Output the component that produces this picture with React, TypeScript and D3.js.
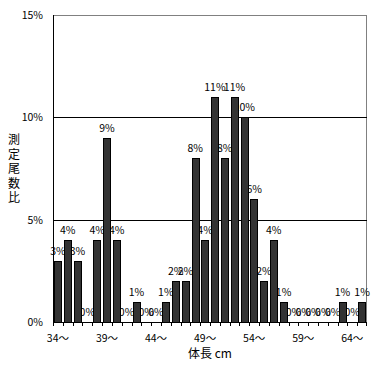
import React from "react";
import * as d3 from "d3";

const categories: number[] = d3.range(34, 66);
const values: number[] = [3, 4, 3, 0, 4, 9, 4, 0, 1, 0, 0, 1, 2, 2, 8, 4, 11, 8, 11, 10, 6, 2, 4, 1, 0, 0, 0, 0, 0, 1, 0, 1];
const yTicks: number[] = [0, 5, 10, 15];
const xLabelCats: number[] = [34, 39, 44, 49, 54, 59, 64];
const yTitle = "測定尾数比";
const xTitle = "体長 cm";

const W = 382, H = 367;
const left = 53, right = 367, top = 15, bottom = 322;
const font = "'Noto Sans CJK JP', 'DejaVu Sans', sans-serif";

export default function App() {
  const x = d3.scaleBand<number>().domain(categories).range([left, right]).paddingInner(0.24).paddingOuter(0.12);
  const xb = d3.scaleBand<number>().domain(categories).range([left, right]);
  const y = d3.scaleLinear().domain([0, 15]).range([bottom, top]);
  return (
    <svg width={W} height={H} style={{ position: "absolute", left: 0, top: 0, background: "#fff" }}>
      <rect x={0} y={0} width={W} height={H} fill="#fff" />
      {/* plot border */}
      <line x1={left} x2={right} y1={top + 0.5} y2={top + 0.5} stroke="#808080" />
      <line x1={right - 0.5} x2={right - 0.5} y1={top} y2={bottom} stroke="#808080" />
      {yTicks.filter(t => t > 0 && t < 15).map(t => (
        <line key={t} x1={left} x2={right} y1={Math.round(y(t)) + 0.5} y2={Math.round(y(t)) + 0.5} stroke="#000" />
      ))}
      {/* value labels (drawn under bars) */}
      {categories.map((c, i) => (
        <text key={"l" + c} x={x(c)! + x.bandwidth() / 2} y={y(values[i]) - 6} textAnchor="middle" fontSize={10.5} fontFamily={font} fill="#000">
          {values[i]}%
        </text>
      ))}
      {categories.map((c, i) => (
        <rect key={"b" + c} x={Math.round(x(c)!) + 0.5} y={Math.round(y(values[i])) + 0.5} width={Math.round(x.bandwidth())} height={Math.max(0, bottom - Math.round(y(values[i])))} fill="#333333" stroke="#000" strokeWidth={1} />
      ))}
      {/* axes */}
      <line x1={left + 0.5} x2={left + 0.5} y1={top} y2={bottom + 1} stroke="#000" />
      <line x1={left} x2={right} y1={bottom + 0.5} y2={bottom + 0.5} stroke="#000" />
      {categories.map(c => (
        <line key={"t" + c} x1={Math.round(xb(c)!) + 0.5} x2={Math.round(xb(c)!) + 0.5} y1={bottom} y2={bottom + 4} stroke="#000" />
      ))}
      <line x1={right - 0.5} x2={right - 0.5} y1={bottom} y2={bottom + 4} stroke="#000" />
      {yTicks.map(t => (
        <text key={"y" + t} x={43} y={y(t) + 4} textAnchor="end" fontSize={10.5} fontFamily={font} fill="#000">
          {t}%
        </text>
      ))}
      {xLabelCats.map(c => (
        <text key={"x" + c} x={xb(c)! + xb.bandwidth() / 2} y={342} textAnchor="middle" fontSize={10.5} fontFamily={font} fill="#000">
          {c}～
        </text>
      ))}
      <text x={210} y={358} textAnchor="middle" fontSize={12} fontFamily={font} fill="#000">{xTitle}</text>
      {yTitle.split("").map((ch, i) => (
        <text key={"yt" + i} x={14} y={144 + i * 14.6} textAnchor="middle" fontSize={12} fontFamily={font} fill="#000">{ch}</text>
      ))}
    </svg>
  );
}
